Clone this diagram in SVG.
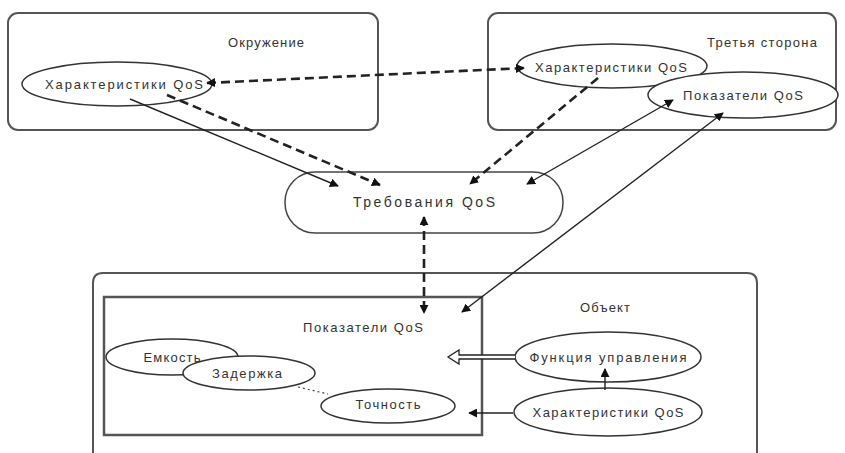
<svg xmlns="http://www.w3.org/2000/svg" width="845" height="453" viewBox="0 0 845 453">
  <style>
    .box { fill: none; stroke: #555; stroke-width: 2; }
    .ell { fill: #fff; stroke: #333; stroke-width: 1.5; }
    .t { font-family: "Liberation Sans", Arial, sans-serif; font-size: 13px; fill: #333; text-anchor: middle; }
    .solid { fill: none; stroke: #222; stroke-width: 1.4; }
    .dash { fill: none; stroke: #222; stroke-width: 2.6; stroke-dasharray: 9 5; }
    .dot { fill: none; stroke: #444; stroke-width: 1.2; stroke-dasharray: 2 3; }
  </style>
  <defs>
    <marker id="ah" viewBox="0 0 10 10" refX="9" refY="5" markerWidth="9" markerHeight="9" markerUnits="userSpaceOnUse" orient="auto-start-reverse">
      <path d="M0,0 L10,5 L0,10 Z" fill="#111"/>
    </marker>
  </defs>
  <rect width="845" height="453" fill="#fff"/>

  <g id="env">
    <rect class="box" x="8" y="13" width="370" height="117" rx="10"/>
    <text class="t" x="266" y="47" textLength="76" lengthAdjust="spacing">Окружение</text>
    <ellipse class="ell" cx="117" cy="84" rx="95" ry="22"/>
    <text class="t" x="124" y="89" textLength="158" lengthAdjust="spacing">Характеристики QoS</text>
  </g>

  <g id="third">
    <rect class="box" x="488" y="13" width="348" height="117" rx="10"/>
    <text class="t" x="762" y="47" textLength="110" lengthAdjust="spacing">Третья сторона</text>
    <ellipse class="ell" cx="612" cy="66" rx="95" ry="22"/>
    <text class="t" x="611" y="72" textLength="152" lengthAdjust="spacing">Характеристики QoS</text>
    <ellipse class="ell" cx="743" cy="95" rx="95" ry="23"/>
    <text class="t" x="743" y="100" textLength="120" lengthAdjust="spacing">Показатели QoS</text>
  </g>

  <g id="req">
    <rect class="box" x="285" y="172" width="278" height="61" rx="30" style="stroke:#444;stroke-width:1.5"/>
    <text class="t" x="424" y="207" textLength="142" lengthAdjust="spacing" style="font-size:14px">Требования QoS</text>
  </g>

  <g id="object">
    <path class="box" d="M93,460 L93,283 Q93,273 103,273 L747,273 Q757,273 757,283 L757,460"/>
    <text class="t" x="605" y="312" textLength="50" lengthAdjust="spacing">Объект</text>
  </g>

  <g id="indicators">
    <rect class="box" x="104" y="297" width="378" height="138" style="stroke-width:2.5"/>
    <text class="t" x="363" y="332" textLength="120" lengthAdjust="spacing">Показатели QoS</text>
  </g>

  <g id="capacity">
    <ellipse class="ell" cx="172" cy="357" rx="66" ry="18"/>
    <text class="t" x="172" y="362" textLength="57" lengthAdjust="spacing">Емкость</text>
  </g>
  <g id="delay">
    <ellipse class="ell" cx="249" cy="373" rx="66" ry="17"/>
    <text class="t" x="247" y="378" textLength="70" lengthAdjust="spacing">Задержка</text>
  </g>
  <g id="accuracy">
    <ellipse class="ell" cx="388" cy="406" rx="67" ry="17"/>
    <text class="t" x="388" y="409" textLength="65" lengthAdjust="spacing">Точность</text>
  </g>
  <g id="control">
    <ellipse class="ell" cx="608" cy="357" rx="93" ry="25"/>
    <text class="t" x="608" y="362" textLength="157" lengthAdjust="spacing">Функция управления</text>
  </g>
  <g id="objchar">
    <ellipse class="ell" cx="608" cy="412" rx="94" ry="24"/>
    <text class="t" x="608" y="417" textLength="151" lengthAdjust="spacing">Характеристики QoS</text>
  </g>

  <g id="connectors">
    <line class="dash" x1="207" y1="83" x2="524" y2="68" marker-start="url(#ah)" marker-end="url(#ah)"/>
    <line class="solid" x1="130" y1="99" x2="338" y2="186" marker-end="url(#ah)"/>
    <line class="dash" x1="167" y1="95" x2="380" y2="185" marker-end="url(#ah)"/>
    <line class="dash" x1="598" y1="78" x2="470" y2="184" marker-end="url(#ah)"/>
    <line class="solid" x1="673" y1="100" x2="527" y2="184" marker-start="url(#ah)" marker-end="url(#ah)"/>
    <line class="solid" x1="723" y1="113" x2="462" y2="312" marker-start="url(#ah)" marker-end="url(#ah)"/>
    <line class="dash" x1="424" y1="217" x2="424" y2="313" marker-start="url(#ah)" marker-end="url(#ah)"/>
    <path d="M515,355 L459,355 L459,350 L448,357 L459,364 L459,359 L515,359" fill="#fff" stroke="#222" stroke-width="1.3"/>
    <line class="solid" x1="513" y1="413" x2="469" y2="413" marker-end="url(#ah)"/>
    <line class="solid" x1="605" y1="390" x2="605" y2="369" marker-end="url(#ah)"/>
    <line class="dot" x1="298" y1="387" x2="328" y2="394"/>
  </g>
</svg>
